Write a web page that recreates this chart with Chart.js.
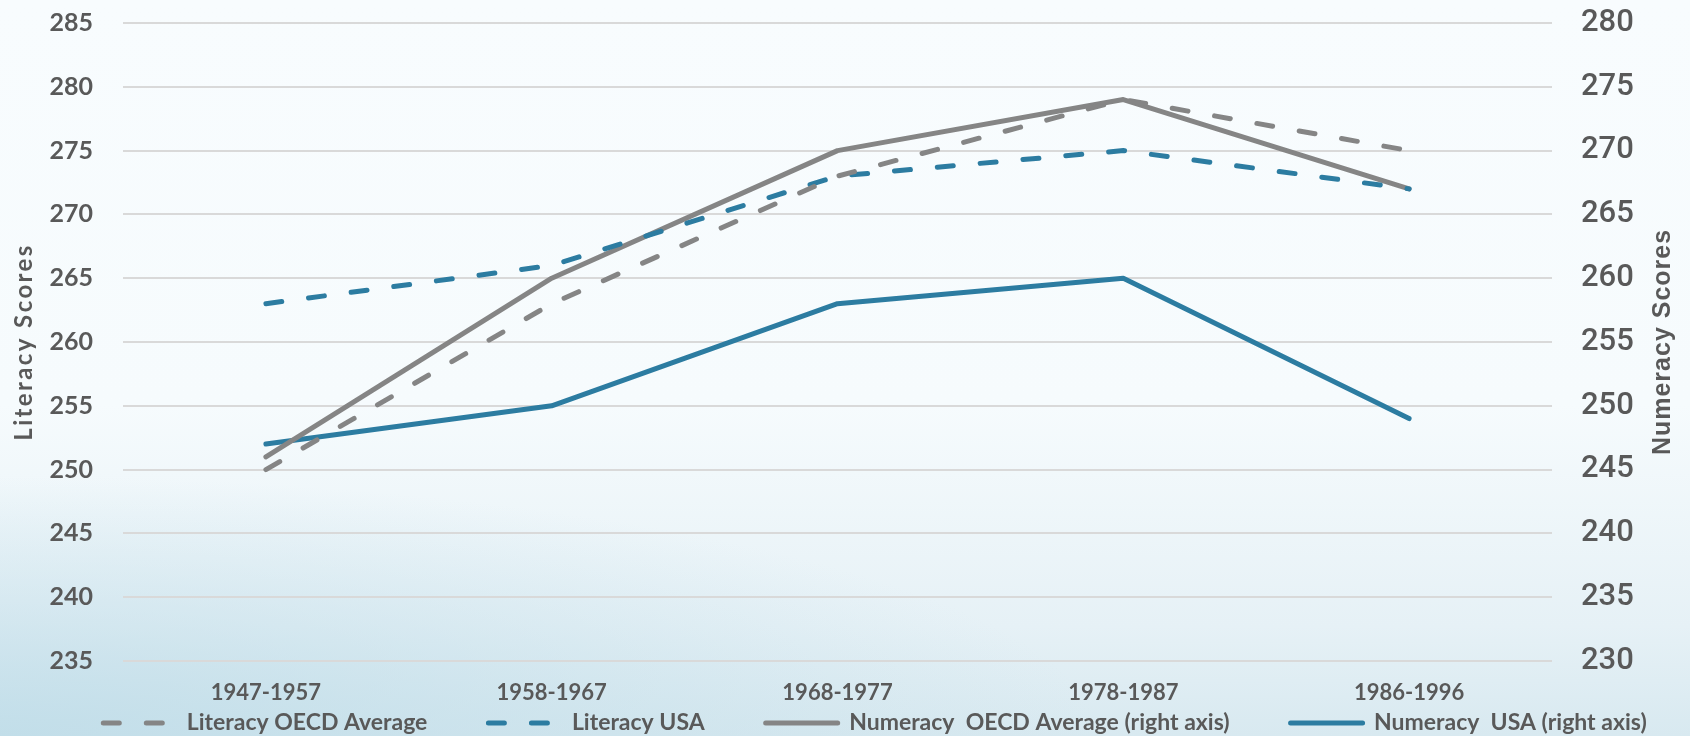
<!DOCTYPE html>
<html>
<head>
<meta charset="utf-8">
<script src="https://cdn.jsdelivr.net/npm/chart.js@4"></script>
<style>
    html, body { margin: 0; padding: 0; }
    body {
        width: 1690px;
        height: 736px;
        overflow: hidden;
        background:
            radial-gradient(ellipse 1100px 260px at 0% 100%, rgba(190, 220, 232, 0.85), rgba(190, 220, 232, 0) 100%),
            linear-gradient(to bottom, #f8fcfe 0%, #f6fbfd 55%, #e6f1f6 85%, #d8e9f0 100%);
    }
    #wrap { position: relative; width: 1690px; height: 736px; }
</style>
</head>
<body>
<div id="wrap"><canvas id="chart" width="1690" height="736"></canvas></div>
<script>
const categories = ['1947-1957', '1958-1967', '1968-1977', '1978-1987', '1986-1996'];
const literacyOecd = [250, 263, 273, 279, 275];
const literacyUsa = [263, 266, 273, 275, 272];
const numeracyOecd = [246, 260, 270, 274, 267];   // right axis
const numeracyUsa = [247, 250, 258, 260, 249];    // right axis
const leftTicks = [235, 285];
const rightTicks = [230, 280];

const GRAY = '#858585';
const BLUE = '#2c7ca1';
const TEXT = '#595959';
const DASH = [16, 27];
const LEGEND_GAP = 61;
const LEGEND_FONT = 23;

const layoutTweaks = {
    id: 'layoutTweaks',
    afterLayout(chart) {
        // legend row sits lower and a little right of centre in the original
        const lg = chart.legend;
        lg.left += 30;
        lg.right += 30;
        lg.top = chart.chartArea.bottom + 62 - LEGEND_GAP - LEGEND_FONT / 2;
        lg.bottom = chart.height;
        lg.height = lg.bottom - lg.top;
    },
    afterDraw(chart) {
        // axis titles, both read bottom-to-top like the original
        const c = chart.ctx;
        const area = chart.chartArea;
        const midY = (area.top + area.bottom) / 2;
        const items = [
            { text: 'Literacy Scores', x: 24, font: 'bold 24px Lato', spacing: '2.4px' },
            { text: 'Numeracy Scores', x: 1663, font: 'bold 25px "Liberation Sans"', spacing: '1px' }
        ];
        items.forEach(t => {
            c.save();
            c.translate(t.x, midY);
            c.rotate(-Math.PI / 2);
            c.font = t.font;
            if ('letterSpacing' in c) c.letterSpacing = t.spacing;
            c.fillStyle = TEXT;
            c.textAlign = 'center';
            c.textBaseline = 'middle';
            c.fillText(t.text, 0, 0);
            c.restore();
        });
    }
};

function noPad(scale) {
    scale.paddingTop = 0;
    scale.paddingBottom = 0;
}

const ctx = document.getElementById('chart').getContext('2d');
new Chart(ctx, {
    type: 'line',
    data: {
        labels: categories,
        datasets: [{
            label: 'Literacy OECD Average',
            data: literacyOecd,
            yAxisID: 'y',
            borderColor: GRAY,
            backgroundColor: GRAY,
            borderDash: DASH,
            borderCapStyle: 'round'
        }, {
            label: 'Literacy USA',
            data: literacyUsa,
            yAxisID: 'y',
            borderColor: BLUE,
            backgroundColor: BLUE,
            borderDash: DASH,
            borderCapStyle: 'round'
        }, {
            label: 'Numeracy  OECD Average (right axis)',
            data: numeracyOecd,
            yAxisID: 'y1',
            borderColor: GRAY,
            backgroundColor: GRAY,
            borderCapStyle: 'round'
        }, {
            label: 'Numeracy  USA (right axis)',
            data: numeracyUsa,
            yAxisID: 'y1',
            borderColor: BLUE,
            backgroundColor: BLUE,
            borderCapStyle: 'round'
        }]
    },
    plugins: [layoutTweaks],
    options: {
        responsive: false,
        animation: false,
        layout: { padding: { top: 23, left: 0, right: 0, bottom: 0 } },
        elements: {
            line: { borderWidth: 5, tension: 0, borderJoinStyle: 'round' },
            point: { radius: 0, hoverRadius: 0 }
        },
        scales: {
            x: {
                offset: true,
                grid: { display: false, drawTicks: false },
                border: { display: false },
                ticks: {
                    color: TEXT,
                    padding: 19,
                    maxRotation: 0,
                    autoSkip: false,
                    font: { family: 'Lato', weight: 'bold', size: 22 }
                },
                afterFit: function (scale) { scale.height = 46; }
            },
            y: {
                position: 'left',
                min: leftTicks[0],
                max: leftTicks[1],
                grid: { color: '#d9d9d9', lineWidth: 2, drawTicks: false },
                border: { display: false },
                ticks: {
                    stepSize: 5,
                    color: TEXT,
                    padding: 30,
                    font: { family: 'Lato', weight: 'bold', size: 25 }
                },
                afterFit: function (scale) { scale.width = 123; noPad(scale); }
            },
            y1: {
                position: 'right',
                min: rightTicks[0],
                max: rightTicks[1],
                grid: { drawOnChartArea: false, drawTicks: false },
                border: { display: false },
                ticks: {
                    stepSize: 5,
                    color: TEXT,
                    padding: 29,
                    font: { family: 'Roboto', weight: '500', size: 31 }
                },
                afterFit: function (scale) { scale.width = 138; noPad(scale); }
            }
        },
        plugins: {
            legend: {
                position: 'bottom',
                maxHeight: 29,
                labels: {
                    usePointStyle: true,
                    pointStyleWidth: 72,
                    boxHeight: 5,
                    padding: LEGEND_GAP,
                    color: TEXT,
                    font: { family: 'Lato', weight: 'bold', size: LEGEND_FONT },
                    generateLabels: function (chart) {
                        return chart.data.datasets.map((ds, i) => ({
                            text: ds.label,
                            fillStyle: ds.borderColor,
                            strokeStyle: ds.borderColor,
                            fontColor: TEXT,
                            lineWidth: 5,
                            lineDash: ds.borderDash || [],
                            lineCap: 'round',
                            pointStyle: 'line',
                            hidden: false,
                            datasetIndex: i
                        }));
                    }
                }
            },
            tooltip: { enabled: false },
            title: { display: false }
        }
    }
});
</script>
</body>
</html>
